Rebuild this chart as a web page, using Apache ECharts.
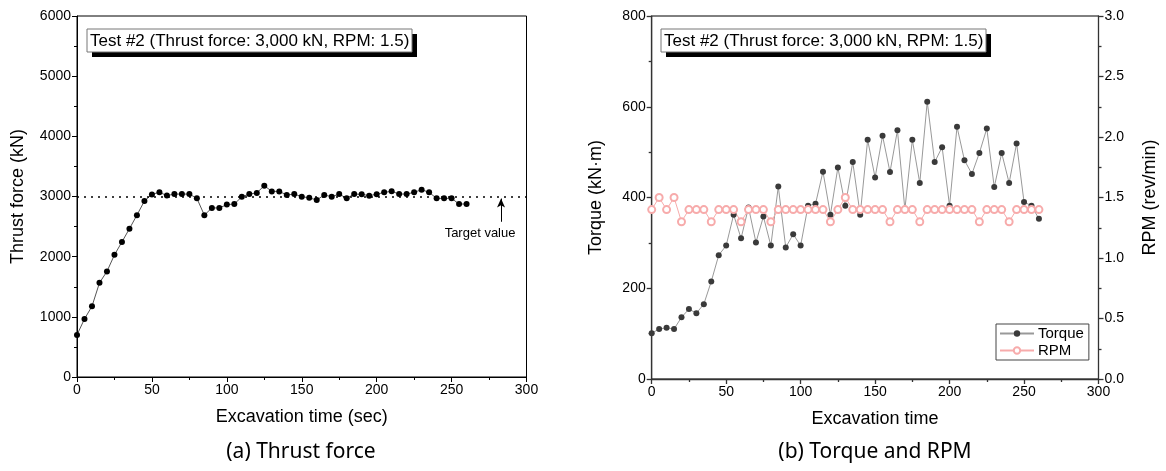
<!DOCTYPE html>
<html>
<head>
<meta charset="utf-8">
<script src="https://cdn.jsdelivr.net/npm/echarts@6/dist/echarts.min.js"></script>
<style>
html,body{margin:0;padding:0;background:#fff;}
#c{width:1166px;height:471px;}
</style>
</head>
<body>
<div id="c"></div>
<script>
var timeSec = [0,5,10,15,20,25,30,35,40,45,50,55,60,65,70,75,80,85,90,95,100,105,110,115,120,125,130,135,140,145,150,155,160,165,170,175,180,185,190,195,200,205,210,215,220,225,230,235,240,245,250,255,260];
var thrustKN = [700,965,1175,1565,1755,2030,2245,2465,2690,2925,3035,3070,3015,3040,3040,3040,2970,2690,2810,2810,2865,2875,2995,3040,3060,3180,3085,3085,3025,3040,2997,2978,2942,3025,2997,3040,2970,3040,3036,3014,3036,3069,3086,3041,3041,3069,3113,3069,2969,2969,2969,2875,2875];
var torqueKNm = [101,110,113,110,136,154,145,165,215,273,294,362,310,378,301,358,294,424,290,319,294,382,386,457,362,466,382,478,362,527,444,536,456,548,374,527,432,611,478,511,382,556,482,452,498,552,423,498,432,519,390,382,353];
var rpmVals = [1.4,1.5,1.4,1.5,1.3,1.4,1.4,1.4,1.3,1.4,1.4,1.4,1.3,1.4,1.4,1.4,1.3,1.4,1.4,1.4,1.4,1.4,1.4,1.4,1.3,1.4,1.5,1.4,1.4,1.4,1.4,1.4,1.3,1.4,1.4,1.4,1.3,1.4,1.4,1.4,1.4,1.4,1.4,1.4,1.3,1.4,1.4,1.4,1.3,1.4,1.4,1.4,1.4];
var targetThrust = 3000;
var boxTitle = 'Test #2 (Thrust force: 3,000 kN, RPM: 1.5)';
var captionA = '(a) Thrust force';
var captionB = '(b) Torque and RPM';

function pairs(xs, ys){ return xs.map(function(x,i){ return [x, ys[i]]; }); }

var FF = "'Liberation Sans', Arial, sans-serif";
var chart = echarts.init(document.getElementById('c'), null, {renderer:'canvas'});

function xAx(gi, name, col, w){
  return {
    type:'value', gridIndex:gi, min:0, max:300, interval:50,
    name:name, nameLocation:'middle', nameGap:31,
    nameTextStyle:{fontFamily:FF, fontSize:18, color:'#000'},
    axisLine:{show:true, onZero:false, lineStyle:{color:col, width:w}},
    axisTick:{show:true, inside:false, length:5, lineStyle:{color:col, width:w}},
    minorTick:{show:true, splitNumber:2, length:3, lineStyle:{color:col, width:w}},
    axisLabel:{fontFamily:FF, fontSize:14, color:'#000', margin:6, formatter:function(v){return String(v);}},
    splitLine:{show:false}
  };
}
function yAx(gi, min, max, iv, name, gap, pos, col, w, fmt){
  return {
    type:'value', gridIndex:gi, min:min, max:max, interval:iv, position:pos,
    name:name, nameLocation:'middle', nameGap:gap,
    nameTextStyle:{fontFamily:FF, fontSize:18, color:'#000'},
    axisLine:{show:true, onZero:false, lineStyle:{color:col, width:w}},
    axisTick:{show:true, inside:false, length:5, lineStyle:{color:col, width:w}},
    minorTick:{show:true, splitNumber:2, length:3, lineStyle:{color:col, width:w}},
    axisLabel:{fontFamily:FF, fontSize:14, color:'#000', margin:6, formatter:fmt || function(v){return String(v);}},
    splitLine:{show:false}
  };
}

function titleBox(x){
  return {type:'group', x:x, y:29, children:[
    {type:'rect', shape:{x:5, y:5, width:325, height:23}, style:{fill:'#000'}},
    {type:'rect', shape:{x:0, y:0, width:325, height:23}, style:{fill:'#fff', stroke:'#777', lineWidth:1}},
    {type:'text', style:{text:boxTitle, x:3, y:12, textVerticalAlign:'middle', fontFamily:FF, fontSize:17, fill:'#000'}}
  ]};
}

var option = {
  backgroundColor:'#fff',
  animation:false,
  legend:{
    left:996, top:324, orient:'vertical', data:['Torque','RPM'],
    borderColor:'#444', borderWidth:1, padding:[2,5,2,3], itemGap:2,
    itemWidth:34, itemHeight:8,
    textStyle:{fontFamily:FF, fontSize:15, color:'#000', padding:[0,0,0,-1]}
  },
  grid:[
    {left:77, right:639.5, top:16, bottom:94, show:true, borderColor:'#000', borderWidth:1, containLabel:false},
    {left:651.7, right:67.5, top:16, bottom:92, show:true, borderColor:'#000', borderWidth:1, containLabel:false}
  ],
  xAxis:[ xAx(0,'Excavation time (sec)','#000',1), xAx(1,'Excavation time','#333',1.3) ],
  yAxis:[
    yAx(0,0,6000,1000,'Thrust force (kN)',50,'left','#000',1),
    yAx(1,0,800,200,'Torque (kN·m)',47,'left','#333',1.3),
    yAx(1,0,3,0.5,'RPM (rev/min)',43,'right','#333',1.3,function(v){return v.toFixed(1);})
  ],
  series:[
    {name:'Thrust', type:'line', xAxisIndex:0, yAxisIndex:0, data:pairs(timeSec, thrustKN),
     symbol:'circle', symbolSize:6, showSymbol:true,
     itemStyle:{color:'#000'}, lineStyle:{color:'#555', width:1},
     markLine:{silent:true, symbol:['none','none'], label:{show:false},
       data:[
         {yAxis:targetThrust, lineStyle:{color:'#000', type:[2,5], width:1.5}},
         [{coord:[283,2580], symbol:'none'},{coord:[283,2965], symbol:'arrow', symbolSize:[6,9]}]
       ],
       lineStyle:{color:'#000', width:1, type:'solid'}},
     markPoint:{silent:true, symbol:'circle', symbolSize:0,
       data:[{coord:[269,2390], value:'Target value'}],
       label:{show:true, position:'inside', formatter:'Target value', fontFamily:FF, fontSize:13, color:'#000'}}
    },
    {name:'Torque', type:'line', xAxisIndex:1, yAxisIndex:1, data:pairs(timeSec, torqueKNm),
     symbol:'circle', symbolSize:6, itemStyle:{color:'#3a3a3a'}, lineStyle:{color:'#999', width:1}},
    {name:'RPM', type:'line', xAxisIndex:1, yAxisIndex:2, data:pairs(timeSec, rpmVals),
     symbol:'emptyCircle', symbolSize:7, itemStyle:{color:'#f7abab', borderColor:'#f7abab', borderWidth:0.8}, lineStyle:{color:'#f7abab', width:1}}
  ],
  graphic:[
    titleBox(87),
    titleBox(661),
    {type:'text', style:{text:captionA, fontFamily:"'Noto Sans', sans-serif", fontSize:21, fill:'#000', x:301, y:452, textAlign:'center', textVerticalAlign:'middle'}},
    {type:'text', style:{text:captionB, fontFamily:"'Noto Sans', sans-serif", fontSize:21, fill:'#000', x:875, y:452, textAlign:'center', textVerticalAlign:'middle'}}
  ]
};
chart.setOption(option);
</script>
</body>
</html>
